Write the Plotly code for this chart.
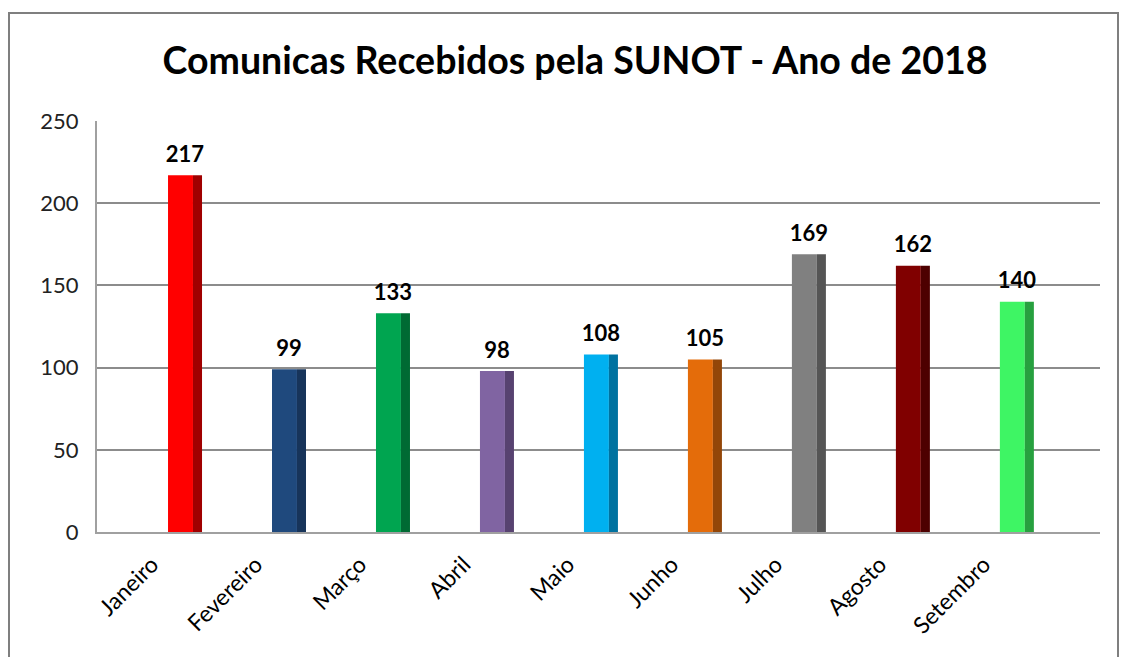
import plotly.graph_objects as go

months = ["Janeiro", "Fevereiro", "Março", "Abril", "Maio", "Junho", "Julho", "Agosto", "Setembro"]
values = [217, 99, 133, 98, 108, 105, 169, 162, 140]
front_colors = ["#FF0000", "#1F497D", "#00A550", "#8064A2", "#00B0F0", "#E46C0A", "#808080", "#800000", "#3EF564"]
side_colors = ["#A00000", "#17345A", "#006A33", "#574270", "#0072A0", "#934608", "#555555", "#4D0000", "#27A03F"]
title_text = "Comunicas Recebidos pela SUNOT - Ano de 2018"
y_ticks = [0, 50, 100, 150, 200, 250]

FONT = "Lato"
OFF = 8  # page body margin
W, H = 1128 - OFF, 657 - OFF
L, R, T, B = 97 - OFF, 28, 121 - OFF, 125
PW, PH = W - L - R, H - T - B

fig = go.Figure()
# front face
fig.add_trace(go.Bar(x=months, y=values, width=0.24, offset=-0.163,
                     marker=dict(color=front_colors, line=dict(width=0)),
                     hoverinfo="skip", showlegend=False))
# side face
fig.add_trace(go.Bar(x=months, y=values, width=0.087, offset=0.077,
                     marker=dict(color=side_colors, line=dict(width=0)),
                     hoverinfo="skip", showlegend=False))
# value labels
fig.add_trace(go.Scatter(x=months, y=values, mode="markers+text",
                         marker=dict(size=11, opacity=0),
                         text=["<b>%d</b>" % v for v in values], textposition="top center",
                         textfont=dict(family=FONT, size=22, color="#000000"),
                         cliponaxis=False, hoverinfo="skip", showlegend=False))

fig.update_layout(
    width=W, height=H,
    margin=dict(l=L, r=R, t=T, b=B),
    paper_bgcolor="white", plot_bgcolor="white",
    barmode="overlay",
    title=dict(text="<b>" + title_text + "</b>", x=(575 - OFF) / W, xanchor="center",
               y=1 - (61 - OFF) / H, yanchor="middle", yref="container",
               font=dict(family=FONT, size=37.5, color="#000000")),
    font=dict(family=FONT),
    xaxis=dict(type="category", range=[-0.846, 8.80], showgrid=False,
               showline=True, linecolor="#A0A0A0", linewidth=2,
               tickangle=-45, tickfont=dict(family=FONT, size=23, color="#000000"),
               ticks="", ticklabelshift=-33, ticklabelstandoff=8),
    yaxis=dict(range=[0, 250], tickvals=y_ticks, showgrid=True,
               gridcolor="#8C8C8C", gridwidth=2, zeroline=False,
               showline=True, linecolor="#A0A0A0", linewidth=2,
               tickfont=dict(family=FONT, size=22, color="#222222"),
               ticks="", ticklabelstandoff=12),
    shapes=[dict(type="rect", xref="paper", yref="paper",
                 x0=-(L - 1) / PW, x1=(1110 - L) / PW,
                 y0=-(B + 30) / PH, y1=(H - 5 - B) / PH,
                 line=dict(color="#7F7F7F", width=2), fillcolor="rgba(0,0,0,0)", layer="below")],
)

fig.write_html("out.html")
